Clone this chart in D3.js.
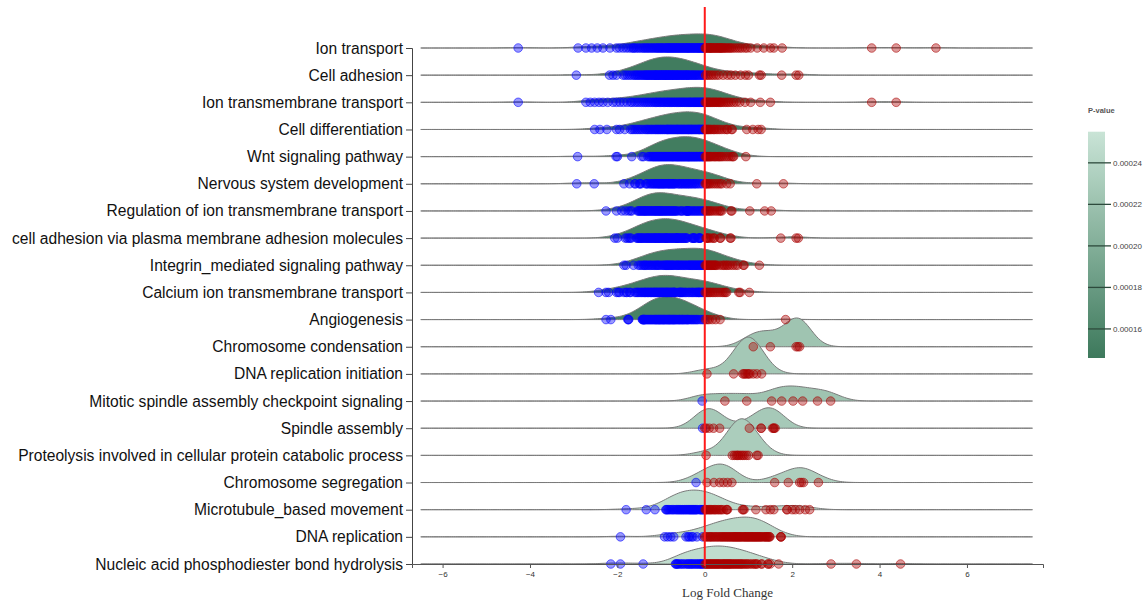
<!DOCTYPE html>
<html><head><meta charset="utf-8">
<script src="https://cdn.jsdelivr.net/npm/d3@7"></script>
<style>
body{margin:0;background:#fff;}
svg{display:block;font-family:"Liberation Sans",Arial,sans-serif;}
</style>
</head><body>
<svg id="chart" width="1147" height="608"></svg>
<script>
// ---------------- data ----------------
const categories = [
  "Ion transport","Cell adhesion","Ion transmembrane transport","Cell differentiation",
  "Wnt signaling pathway","Nervous system development","Regulation of ion transmembrane transport",
  "cell adhesion via plasma membrane adhesion molecules","Integrin_mediated signaling pathway",
  "Calcium ion transmembrane transport","Angiogenesis","Chromosome condensation",
  "DNA replication initiation","Mitotic spindle assembly checkpoint signaling","Spindle assembly",
  "Proteolysis involved in cellular protein catabolic process","Chromosome segregation",
  "Microtubule_based movement","DNA replication","Nucleic acid phosphodiester bond hydrolysis"
];
const pValues = [0.000150,0.000149,0.000151,0.000152,0.000150,0.000153,0.000152,0.000151,0.000153,0.000152,0.000154,
  0.000222,0.000226,0.000222,0.000228,0.000232,0.000234,0.000246,0.000242,0.000248];

const ionTransport = [-4.27,-2.9,-2.72,-2.59,-2.46,-2.33,-2.17,-2.02,-1.95,-1.87,-1.8,-1.74,-1.68,-1.64,-1.62,-1.58,-1.54,-1.5,-1.46,-1.42,-1.39,-1.36,-1.33,-1.3,-1.27,-1.24,-1.21,-1.18,-1.15,-1.12,-1.1,-1.07,-1.05,-1.02,-1.0,-0.98,-0.95,-0.93,-0.9,-0.88,-0.86,-0.84,-0.82,-0.8,-0.78,-0.76,-0.74,-0.72,-0.7,-0.68,-0.66,-0.64,-0.62,-0.6,-0.58,-0.56,-0.54,-0.52,-0.5,-0.48,-0.46,-0.44,-0.42,-0.4,-0.38,-0.37,-0.35,-0.33,-0.31,-0.29,-0.27,-0.25,-0.23,-0.21,-0.19,-0.17,-0.15,-0.13,-0.12,-0.1,-0.08,-0.06,-0.04,-0.03,-0.01,0.01,0.02,0.04,0.06,0.08,0.1,0.12,0.13,0.14,0.16,0.18,0.2,0.22,0.24,0.26,0.28,0.3,0.32,0.34,0.36,0.37,0.39,0.41,0.44,0.46,0.49,0.52,0.55,0.58,0.61,0.65,0.7,0.75,0.8,0.85,0.92,0.97,1.05,1.2,1.35,1.5,1.58,1.77,3.82,4.38,5.29];
const cellAdhesion = [-2.94,-2.18,-2.1,-2.02,-1.87,-1.82,-1.77,-1.72,-1.67,-1.62,-1.59,-1.56,-1.53,-1.5,-1.47,-1.44,-1.41,-1.38,-1.36,-1.34,-1.32,-1.3,-1.28,-1.26,-1.24,-1.22,-1.2,-1.18,-1.16,-1.14,-1.13,-1.11,-1.1,-1.08,-1.06,-1.05,-1.03,-1.01,-1.0,-0.98,-0.96,-0.95,-0.93,-0.91,-0.9,-0.88,-0.87,-0.85,-0.84,-0.82,-0.8,-0.79,-0.77,-0.75,-0.74,-0.72,-0.7,-0.69,-0.67,-0.65,-0.63,-0.62,-0.6,-0.58,-0.56,-0.54,-0.52,-0.5,-0.48,-0.46,-0.44,-0.42,-0.4,-0.38,-0.37,-0.34,-0.32,-0.29,-0.27,-0.24,-0.22,-0.19,-0.17,-0.14,-0.11,-0.08,-0.05,-0.02,0.02,0.06,0.1,0.15,0.2,0.26,0.32,0.42,0.52,0.6,0.7,0.82,0.93,1.0,1.25,1.29,1.76,2.09,2.15];
const ionTransmembraneTransport = [-4.27,-2.72,-2.62,-2.52,-2.42,-2.33,-2.22,-2.1,-2.02,-1.94,-1.86,-1.78,-1.7,-1.66,-1.6,-1.55,-1.5,-1.45,-1.4,-1.36,-1.32,-1.28,-1.24,-1.2,-1.16,-1.13,-1.1,-1.07,-1.04,-1.01,-0.98,-0.95,-0.92,-0.89,-0.86,-0.84,-0.81,-0.78,-0.76,-0.73,-0.7,-0.68,-0.65,-0.62,-0.6,-0.57,-0.55,-0.52,-0.5,-0.47,-0.45,-0.42,-0.4,-0.37,-0.35,-0.33,-0.31,-0.29,-0.26,-0.24,-0.22,-0.2,-0.18,-0.16,-0.14,-0.12,-0.1,-0.08,-0.06,-0.04,-0.02,0.01,0.03,0.05,0.07,0.09,0.11,0.13,0.16,0.18,0.21,0.23,0.26,0.28,0.31,0.34,0.36,0.39,0.43,0.47,0.51,0.55,0.6,0.66,0.72,0.8,0.92,1.05,1.27,1.5,3.82,4.38];
const cellDifferentiation = [-2.52,-2.4,-2.24,-2.02,-1.95,-1.83,-1.7,-1.66,-1.62,-1.58,-1.54,-1.5,-1.46,-1.42,-1.37,-1.34,-1.31,-1.28,-1.25,-1.22,-1.19,-1.16,-1.13,-1.11,-1.08,-1.06,-1.03,-1.01,-0.98,-0.96,-0.93,-0.91,-0.88,-0.86,-0.85,-0.83,-0.81,-0.79,-0.77,-0.75,-0.73,-0.71,-0.69,-0.67,-0.65,-0.63,-0.62,-0.6,-0.58,-0.56,-0.54,-0.52,-0.5,-0.48,-0.46,-0.44,-0.42,-0.4,-0.38,-0.37,-0.35,-0.33,-0.31,-0.3,-0.28,-0.26,-0.24,-0.22,-0.2,-0.18,-0.16,-0.14,-0.13,-0.12,-0.1,-0.08,-0.06,-0.05,-0.03,-0.01,0.01,0.02,0.04,0.06,0.08,0.1,0.13,0.16,0.2,0.22,0.26,0.3,0.34,0.39,0.45,0.5,0.52,0.61,0.63,0.96,1.1,1.22,1.29];
const wntSignaling = [-2.91,-2.03,-2.0,-1.67,-1.44,-1.4,-1.3,-1.27,-1.24,-1.21,-1.19,-1.17,-1.15,-1.13,-1.11,-1.09,-1.07,-1.05,-1.03,-1.01,-0.99,-0.97,-0.95,-0.93,-0.91,-0.89,-0.87,-0.85,-0.83,-0.81,-0.79,-0.77,-0.75,-0.74,-0.72,-0.7,-0.68,-0.66,-0.64,-0.63,-0.61,-0.6,-0.58,-0.56,-0.55,-0.53,-0.51,-0.5,-0.48,-0.46,-0.45,-0.43,-0.41,-0.4,-0.38,-0.37,-0.35,-0.34,-0.32,-0.3,-0.29,-0.27,-0.25,-0.24,-0.22,-0.2,-0.19,-0.17,-0.15,-0.13,-0.12,-0.1,-0.08,-0.06,-0.05,-0.03,-0.01,0.01,0.03,0.05,0.07,0.09,0.11,0.13,0.16,0.19,0.22,0.25,0.28,0.31,0.34,0.37,0.4,0.45,0.5,0.55,0.6,0.64,0.66,0.94];
const nervousSystem = [-2.93,-2.53,-1.85,-1.72,-1.6,-1.59,-1.5,-1.48,-1.46,-1.35,-1.33,-1.3,-1.25,-1.23,-1.2,-1.17,-1.15,-1.13,-1.1,-1.08,-1.06,-1.04,-1.02,-1.0,-0.98,-0.96,-0.94,-0.92,-0.9,-0.87,-0.85,-0.83,-0.81,-0.79,-0.77,-0.75,-0.73,-0.71,-0.69,-0.67,-0.62,-0.6,-0.57,-0.54,-0.52,-0.49,-0.46,-0.44,-0.41,-0.38,-0.36,-0.33,-0.3,-0.27,-0.24,-0.21,-0.18,-0.14,-0.1,-0.05,0.01,0.03,0.05,0.08,0.11,0.15,0.2,0.25,0.3,0.35,0.39,0.5,0.58,1.19,1.8];
const regulationIon = [-2.26,-2.02,-1.9,-1.82,-1.75,-1.7,-1.67,-1.54,-1.52,-1.5,-1.48,-1.46,-1.44,-1.42,-1.4,-1.38,-1.37,-1.35,-1.33,-1.31,-1.29,-1.27,-1.25,-1.23,-1.21,-1.19,-1.17,-1.15,-1.13,-1.12,-1.1,-1.08,-1.06,-1.05,-1.03,-1.01,-1.0,-0.98,-0.96,-0.94,-0.92,-0.9,-0.88,-0.86,-0.84,-0.82,-0.8,-0.78,-0.76,-0.74,-0.72,-0.7,-0.68,-0.66,-0.64,-0.6,-0.55,-0.53,-0.51,-0.45,-0.42,-0.41,-0.4,-0.39,-0.38,-0.37,-0.34,-0.31,-0.28,-0.25,-0.22,-0.19,-0.16,-0.13,-0.1,-0.07,-0.04,-0.01,0.02,0.05,0.08,0.11,0.14,0.18,0.23,0.28,0.33,0.36,0.39,0.6,0.62,1.03,1.37,1.52];
const adhesionPlasma = [-2.06,-2.0,-1.82,-1.78,-1.74,-1.71,-1.68,-1.56,-1.54,-1.52,-1.5,-1.48,-1.46,-1.44,-1.42,-1.4,-1.37,-1.35,-1.33,-1.31,-1.29,-1.27,-1.25,-1.23,-1.21,-1.19,-1.17,-1.15,-1.13,-1.12,-1.1,-1.08,-1.06,-1.04,-1.03,-1.01,-0.99,-0.97,-0.95,-0.93,-0.91,-0.89,-0.88,-0.87,-0.85,-0.83,-0.81,-0.79,-0.77,-0.75,-0.73,-0.71,-0.69,-0.67,-0.65,-0.64,-0.63,-0.62,-0.6,-0.58,-0.56,-0.54,-0.52,-0.5,-0.48,-0.46,-0.44,-0.42,-0.41,-0.3,-0.28,-0.26,-0.25,-0.24,-0.22,-0.15,-0.13,-0.12,-0.11,-0.1,0.03,0.05,0.07,0.1,0.15,0.2,0.22,0.35,0.36,0.58,0.6,1.74,2.09,2.14];
const integrinSignaling = [-1.85,-1.8,-1.63,-1.52,-1.48,-1.44,-1.4,-1.38,-1.36,-1.33,-1.3,-1.27,-1.24,-1.21,-1.18,-1.15,-1.12,-1.1,-1.07,-1.05,-1.02,-0.98,-0.95,-0.93,-0.9,-0.88,-0.87,-0.85,-0.83,-0.81,-0.79,-0.77,-0.75,-0.73,-0.71,-0.68,-0.65,-0.63,-0.61,-0.59,-0.56,-0.54,-0.51,-0.49,-0.46,-0.44,-0.41,-0.38,-0.36,-0.34,-0.32,-0.3,-0.28,-0.26,-0.24,-0.22,-0.2,-0.18,-0.16,-0.14,-0.12,-0.1,-0.08,-0.06,-0.04,-0.02,0.01,0.03,0.05,0.07,0.09,0.11,0.13,0.15,0.17,0.19,0.21,0.23,0.25,0.27,0.33,0.39,0.43,0.46,0.5,0.53,0.58,0.64,0.7,0.75,0.88,0.9,1.25];
const calciumIon = [-2.43,-2.26,-2.2,-2.02,-1.98,-1.95,-1.85,-1.8,-1.78,-1.72,-1.7,-1.6,-1.57,-1.54,-1.51,-1.48,-1.45,-1.42,-1.39,-1.37,-1.35,-1.32,-1.3,-1.28,-1.25,-1.23,-1.21,-1.18,-1.16,-1.14,-1.12,-1.1,-1.08,-1.06,-1.04,-1.02,-1.0,-0.98,-0.96,-0.94,-0.92,-0.9,-0.88,-0.87,-0.85,-0.83,-0.81,-0.79,-0.77,-0.75,-0.73,-0.71,-0.7,-0.69,-0.68,-0.62,-0.58,-0.57,-0.56,-0.54,-0.52,-0.5,-0.47,-0.44,-0.41,-0.37,-0.34,-0.31,-0.28,-0.25,-0.22,-0.19,-0.16,-0.14,-0.13,-0.11,-0.08,-0.05,-0.02,0.01,0.04,0.07,0.1,0.13,0.17,0.21,0.25,0.3,0.35,0.4,0.44,0.47,0.5,0.78,0.81,1.02];
const angiogenesis = [-2.26,-2.15,-1.76,-1.75,-1.74,-1.43,-1.42,-1.41,-1.4,-1.39,-1.38,-1.37,-1.35,-1.33,-1.31,-1.29,-1.27,-1.25,-1.23,-1.21,-1.19,-1.17,-1.15,-1.13,-1.12,-1.1,-1.09,-1.07,-1.06,-1.04,-1.03,-1.01,-1.0,-0.98,-0.97,-0.95,-0.94,-0.92,-0.91,-0.89,-0.87,-0.86,-0.84,-0.83,-0.81,-0.8,-0.78,-0.77,-0.75,-0.74,-0.72,-0.71,-0.69,-0.68,-0.66,-0.64,-0.62,-0.6,-0.58,-0.57,-0.55,-0.53,-0.51,-0.5,-0.48,-0.46,-0.44,-0.42,-0.4,-0.39,-0.37,-0.34,-0.31,-0.29,-0.26,-0.23,-0.2,-0.18,-0.15,-0.1,-0.06,-0.02,0.02,0.06,0.1,0.17,0.25,0.35,1.85];
const chromosomeCondensation = [1.11,1.5,2.09,2.13,2.17];
const dnaReplicationInitiation = [0.05,0.66,0.87,0.9,0.93,0.97,1.0,1.03,1.11,1.19,1.3];
const mitoticSpindleCheckpoint = [-0.06,0.46,0.96,1.53,1.76,2.02,2.24,2.58,2.88];
const spindleAssembly = [-0.05,0.0,0.03,0.1,0.2,0.34,1.02,1.29,1.29,1.55,1.58,1.58,1.61];
const proteolysis = [0.03,0.63,0.68,0.72,0.75,0.78,0.82,0.86,0.9,0.95,1.0,1.19,1.22];
const chromosomeSegregation = [-0.2,0.05,0.21,0.34,0.43,0.52,0.62,1.6,1.91,2.17,2.21,2.26,2.6];
const microtubuleMovement = [-1.8,-1.34,-1.14,-0.89,-0.88,-0.86,-0.83,-0.8,-0.77,-0.74,-0.71,-0.68,-0.65,-0.62,-0.6,-0.57,-0.55,-0.52,-0.5,-0.47,-0.45,-0.42,-0.4,-0.37,-0.35,-0.33,-0.31,-0.29,-0.27,-0.25,-0.23,-0.21,-0.19,-0.17,-0.12,-0.1,-0.08,-0.06,-0.04,-0.03,0.01,0.03,0.05,0.08,0.11,0.13,0.16,0.19,0.22,0.25,0.28,0.32,0.35,0.38,0.42,0.5,0.5,0.52,0.86,0.88,0.9,1.17,1.4,1.5,1.58,1.88,1.88,2.0,2.07,2.17,2.3,2.4];
const dnaReplication = [-1.93,-0.92,-0.85,-0.78,-0.71,-0.43,-0.38,-0.35,-0.3,-0.27,-0.18,-0.05,0.0,0.03,0.06,0.09,0.12,0.14,0.17,0.2,0.23,0.26,0.29,0.32,0.35,0.38,0.4,0.43,0.45,0.48,0.5,0.53,0.55,0.58,0.6,0.63,0.65,0.67,0.69,0.71,0.73,0.75,0.77,0.79,0.81,0.83,0.85,0.88,0.9,0.92,0.94,0.96,0.98,1.0,1.02,1.04,1.06,1.08,1.1,1.12,1.14,1.16,1.18,1.2,1.22,1.24,1.26,1.28,1.3,1.33,1.36,1.38,1.4,1.42,1.44,1.46,1.48,1.49,1.74,1.74,1.75];
const nucleicAcidHydrolysis = [-2.15,-1.93,-1.41,-0.67,-0.66,-0.64,-0.62,-0.6,-0.56,-0.53,-0.5,-0.46,-0.42,-0.39,-0.37,-0.34,-0.31,-0.29,-0.26,-0.23,-0.2,-0.17,-0.14,-0.12,-0.09,-0.07,-0.05,-0.02,0.01,0.03,0.05,0.07,0.09,0.11,0.13,0.15,0.17,0.19,0.21,0.23,0.25,0.27,0.29,0.31,0.33,0.35,0.38,0.4,0.42,0.44,0.46,0.48,0.5,0.52,0.54,0.56,0.58,0.6,0.63,0.65,0.68,0.7,0.73,0.75,0.78,0.8,0.83,0.85,0.88,0.91,0.94,0.97,1.0,1.04,1.08,1.12,1.15,1.18,1.2,1.3,1.3,1.45,1.45,1.5,1.69,2.89,3.47,4.48];

const seriesValues = [ionTransport,cellAdhesion,ionTransmembraneTransport,cellDifferentiation,wntSignaling,
  nervousSystem,regulationIon,adhesionPlasma,integrinSignaling,calciumIon,angiogenesis,chromosomeCondensation,
  dnaReplicationInitiation,mitoticSpindleCheckpoint,spindleAssembly,proteolysis,chromosomeSegregation,
  microtubuleMovement,dnaReplication,nucleicAcidHydrolysis];

const xDomain = [-6.7, 7.74];
const xTickValues = [-6,-4,-2,0,2,4,6];
const pDomain = [0.000146, 0.000255];
const legendTickValues = [0.00016,0.00018,0.00020,0.00022,0.00024];
const xLabel = "Log Fold Change";
const legendTitle = "P-value";

// ---------------- layout ----------------
const svg = d3.select("#chart");
const plotLeft = 412, plotRight = 1043, plotTop = 48, plotBottom = 564;
const ridgeScale = 35;      // px per unit of density
const bandwidth = 0.3;      // gaussian kernel bandwidth (logFC units)

const x = d3.scaleLinear().domain(xDomain).range([plotLeft, plotRight]);
const y = d3.scalePoint().domain(categories).range([plotTop, plotBottom]);
const h = d3.scaleLinear().domain([0, 1]).range([0, ridgeScale]);
const color = d3.scaleLinear().domain(pDomain).range(["#3d795c", "#c9e4d6"]).interpolate(d3.interpolateRgb);

const [g0, g1] = d3.extent(x.ticks(40));
const grid = d3.range(g0, g1 + 0.001, 0.05);
function kde(values) {
  const c = 1 / (bandwidth * Math.sqrt(2 * Math.PI));
  return grid.map(g => [g, c * d3.mean(values, v => Math.exp(-0.5 * ((g - v) / bandwidth) ** 2))]);
}

const rows = categories.map((name, i) => ({name, p: pValues[i], values: seriesValues[i], density: kde(seriesValues[i])}));

// ridges
const ridgeG = svg.append("g");
rows.forEach(r => {
  const base = y(r.name);
  const area = d3.area().curve(d3.curveBasis)
    .x(d => x(d[0])).y0(base).y1(d => base - h(d[1]));
  ridgeG.append("path").datum(r.density)
    .attr("d", area)
    .attr("fill", color(r.p))
    .attr("stroke", "#7a7a7a")
    .attr("stroke-width", 1);
});

// points
const ptG = svg.append("g");
rows.forEach(r => {
  ptG.selectAll(null).data(r.values).enter().append("circle")
    .attr("cx", v => x(v)).attr("cy", y(r.name)).attr("r", 4.3)
    .attr("fill", v => v < 0 ? "#0000ff" : "#aa0000")
    .attr("fill-opacity", 0.4)
    .attr("stroke", v => v < 0 ? "#0000ff" : "#aa0000")
    .attr("stroke-opacity", 0.55)
    .attr("stroke-width", 1);
});

// axes
const yAxis = svg.append("g").attr("transform", `translate(${plotLeft},0)`).call(d3.axisLeft(y));
yAxis.selectAll("text").attr("font-size", 15.6).attr("fill", "#111").attr("font-family", '"Liberation Sans",Arial,sans-serif');
yAxis.select(".domain").attr("stroke", "#444");
yAxis.selectAll(".tick line").attr("stroke", "#444");

const xAxis = svg.append("g").attr("transform", `translate(0,${plotBottom})`)
  .call(d3.axisBottom(x).tickValues(xTickValues).tickSize(4));
xAxis.selectAll("text").attr("font-size", 8).attr("fill", "#333");
xAxis.select(".domain").attr("stroke", "#555");
xAxis.selectAll(".tick line").attr("stroke", "#555");

svg.append("text").attr("x", (plotLeft + plotRight) / 2).attr("y", 597).attr("text-anchor", "middle")
  .attr("font-family", '"Liberation Serif","Times New Roman",serif').attr("font-size", 13).attr("fill", "#333")
  .text(xLabel);

// zero line
svg.append("line").attr("x1", x(0)).attr("x2", x(0)).attr("y1", 7).attr("y2", plotBottom + 2)
  .attr("stroke", "#ff1a1a").attr("stroke-width", 2);

// legend
const lgX = 1088, lgW = 17, lgTop = 131.7, lgBottom = 358;
const defs = svg.append("defs");
const grad = defs.append("linearGradient").attr("id", "pgrad").attr("x1", 0).attr("x2", 0).attr("y1", 1).attr("y2", 0);
d3.range(0, 1.01, 0.1).forEach(t => {
  grad.append("stop").attr("offset", t).attr("stop-color", color(pDomain[0] + t * (pDomain[1] - pDomain[0])));
});
svg.append("rect").attr("x", lgX).attr("y", lgTop).attr("width", lgW).attr("height", lgBottom - lgTop).attr("fill", "url(#pgrad)");
const ly = d3.scaleLinear().domain(pDomain).range([lgBottom, lgTop]);
const lg = svg.append("g");
legendTickValues.forEach(t => {
  lg.append("line").attr("x1", lgX).attr("x2", lgX + 23).attr("y1", ly(t)).attr("y2", ly(t))
    .attr("stroke", "#2d4a3c").attr("stroke-width", 1.3);
  lg.append("text").attr("x", lgX + 25).attr("y", ly(t)).attr("dy", "0.35em")
    .attr("font-size", 8).attr("fill", "#444").text(d3.format(".5f")(t));
});
svg.append("text").attr("x", lgX).attr("y", 113).attr("font-size", 7.5).attr("font-weight", "bold")
  .attr("fill", "#555").text(legendTitle);
</script>
</body></html>
